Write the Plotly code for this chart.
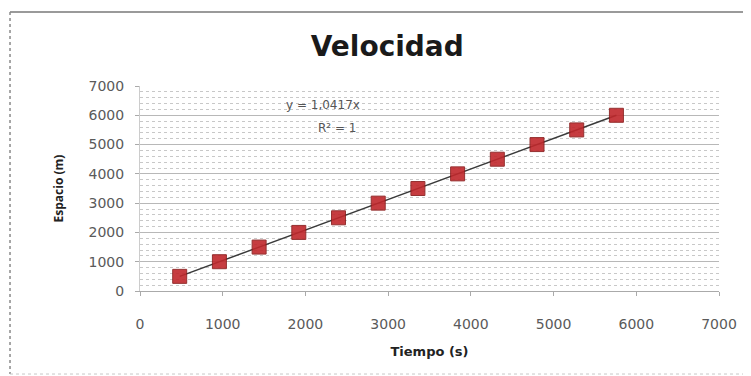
import plotly.graph_objects as go

# datos
tiempo = [480, 960, 1440, 1920, 2400, 2880, 3360, 3840, 4320, 4800, 5280, 5760]
espacio = [500, 1000, 1500, 2000, 2500, 3000, 3500, 4000, 4500, 5000, 5500, 6000]
pendiente = 1.0417
ecuacion = ['y = 1,0417x', 'R² = 1']

fig = go.Figure()

# linea de tendencia
fig.add_trace(go.Scatter(
    x=[tiempo[0], tiempo[-1]],
    y=[pendiente * tiempo[0], pendiente * tiempo[-1]],
    mode='lines',
    line=dict(color='#3a3a3a', width=1.5),
    showlegend=False,
    hoverinfo='skip'
))

# puntos medidos
fig.add_trace(go.Scatter(
    x=tiempo,
    y=espacio,
    mode='markers',
    marker=dict(color='#c0282c', size=14, symbol='square',
                line=dict(color='#8a1c1c', width=1), opacity=0.9),
    name='Espacio',
    showlegend=False
))

# marco del grafico
fig.add_shape(type='line', xref='paper', yref='paper',
              x0=-0.2245, x1=1.2, y0=1.361, y1=1.361,
              line=dict(color='#9a9a9a', width=2))
fig.add_shape(type='line', xref='paper', yref='paper',
              x0=-0.2245, x1=-0.2245, y0=1.361, y1=-0.405,
              line=dict(color='#8a8a8a', width=1.5, dash='dot'))
fig.add_shape(type='line', xref='paper', yref='paper',
              x0=-0.2245, x1=1.2, y0=-0.405, y1=-0.405,
              line=dict(color='#c8c8c8', width=1, dash='dot'))

fig.add_annotation(x=2212, y=6350, text=ecuacion[0], showarrow=False,
                   font=dict(size=12, color='#555555', family='DejaVu Sans'))
fig.add_annotation(x=2380, y=5566, text=ecuacion[1], showarrow=False,
                   font=dict(size=12, color='#555555', family='DejaVu Sans'))

fig.update_layout(
    title=dict(text='<b>Velocidad</b>', x=0.505, xanchor='center',
               y=0.899, yanchor='middle',
               font=dict(size=28, color='#1a1a1a', family='DejaVu Sans')),
    width=751,
    height=376,
    margin=dict(l=132, r=40, t=78, b=93),
    plot_bgcolor='white',
    paper_bgcolor='white',
    font=dict(family='DejaVu Sans', color='#4a4a4a'),
    xaxis=dict(
        range=[0, 7000], dtick=1000, showgrid=False, zeroline=False,
        showline=True, linecolor='#aaaaaa', ticks='outside', ticklen=4,
        tickcolor='#aaaaaa', tickfont=dict(size=14, color='#5a5a5a'),
        ticklabelstandoff=16,
        title=dict(text='<b>Tiempo (s)</b>', font=dict(size=13, color='#222222'),
                   standoff=16)
    ),
    yaxis=dict(
        range=[0, 7000], dtick=1000, showgrid=True, gridcolor='#b8b8b8',
        gridwidth=1, zeroline=False, showline=True, linecolor='#cccccc',
        ticks='outside', ticklen=4, tickcolor='#aaaaaa',
        tickfont=dict(size=14, color='#5a5a5a'),
        ticklabelstandoff=8,
        minor=dict(dtick=200, showgrid=True, gridcolor='#c8c8c8',
                   griddash='dot', gridwidth=1),
        title=dict(text='<b>Espacio (m)</b>', font=dict(size=12, color='#222222',
                                                        family='Open Sans'),
                   standoff=22)
    ),
)

fig.write_html('out.html')
